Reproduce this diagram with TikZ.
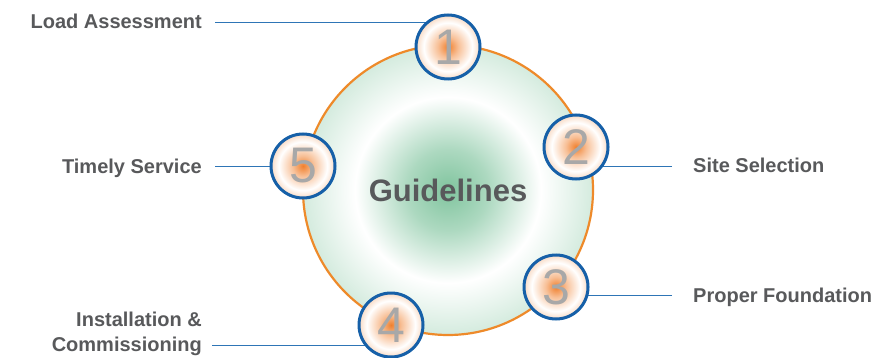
\documentclass[tikz,border=0pt]{standalone}
\usepackage{fontspec}
\setmainfont{Liberation Sans}
\usetikzlibrary{positioning, backgrounds}

\definecolor{textgray}{RGB}{88,89,91}
\definecolor{numgray}{RGB}{168,168,168}
\definecolor{ringorange}{RGB}{238,138,42}
\definecolor{ringblue}{RGB}{22,96,168}
\definecolor{lineblue}{RGB}{46,117,182}
\definecolor{gcore}{RGB}{128,196,158}
\definecolor{gedge}{RGB}{212,235,222}
\definecolor{ocore}{RGB}{240,128,46}
\definecolor{oedge}{RGB}{248,218,196}

\pgfdeclareradialshading{greenglow}{\pgfpoint{0bp}{0bp}}{color(0bp)=(gcore); color(7bp)=(gcore!65!white); color(16bp)=(white); color(25bp)=(gedge); color(50bp)=(gedge)}
\pgfdeclareradialshading{orangeglow}{\pgfpoint{0bp}{0bp}}{color(0bp)=(ocore); color(8bp)=(ocore!50!white); color(19bp)=(white); color(25bp)=(oedge); color(50bp)=(oedge)}

\begin{document}
\begin{tikzpicture}[
        x=1pt, y=-1pt,
        hubcircle/.style={circle, shade, shading=greenglow, draw=ringorange, line width=2.2pt, minimum size=290pt, inner sep=0pt, text=textgray, font=\fontsize{31}{31}\selectfont\bfseries},
        stepnum/.style={circle, shade, shading=orangeglow, draw=ringblue, line width=3pt, minimum size=64pt, inner sep=0pt, text=numgray, font=\fontsize{50}{50}\selectfont},
        tag/.style={inner sep=0pt, text=textgray, font=\fontsize{20}{25}\selectfont\bfseries},
        leader/.style={draw=lineblue, line width=1pt}
    ]
        \useasboundingbox (0,0) rectangle (890,358);

        % Central circle
        \node (hub) [hubcircle] at (448,190) {Guidelines};

        % Numbered steps
        \node (c1) [stepnum] at (448,47) {1};
        \node (c2) [stepnum] at (576,147) {2};
        \node (c3) [stepnum] at (556,287) {3};
        \node (c4) [stepnum] at (391,325) {4};
        \node (c5) [stepnum] at (303,166) {5};

        % Labels
        \node (t1) [tag, anchor=base east] at (202,29) {Load Assessment};
        \node (t5) [tag, anchor=base east] at (202,173) {Timely Service};
        \node (t4) [tag, anchor=base east, align=right] at (202,351) {Installation \&\\Commissioning};
        \node (t2) [tag, anchor=base west] at (693,172) {Site Selection};
        \node (t3) [tag, anchor=base west] at (693,302) {Proper Foundation};

        % Leader ends
        \coordinate (e1) at (215,23);
        \coordinate (e5) at (215,166);
        \coordinate (e4) at (212,345);
        \coordinate (e2) at (672,166);
        \coordinate (e3) at (672,295);

        % Leaders
        \begin{scope}[on background layer]
            \draw [leader] (e1) -- (e1 -| c1);
            \draw [leader] (e5) -- (e5 -| c5);
            \draw [leader] (e4) -- (e4 -| c4);
            \draw [leader] (e2) -- (e2 -| c2);
            \draw [leader] (e3) -- (e3 -| c3);
        \end{scope}
    \end{tikzpicture}
\end{document}
